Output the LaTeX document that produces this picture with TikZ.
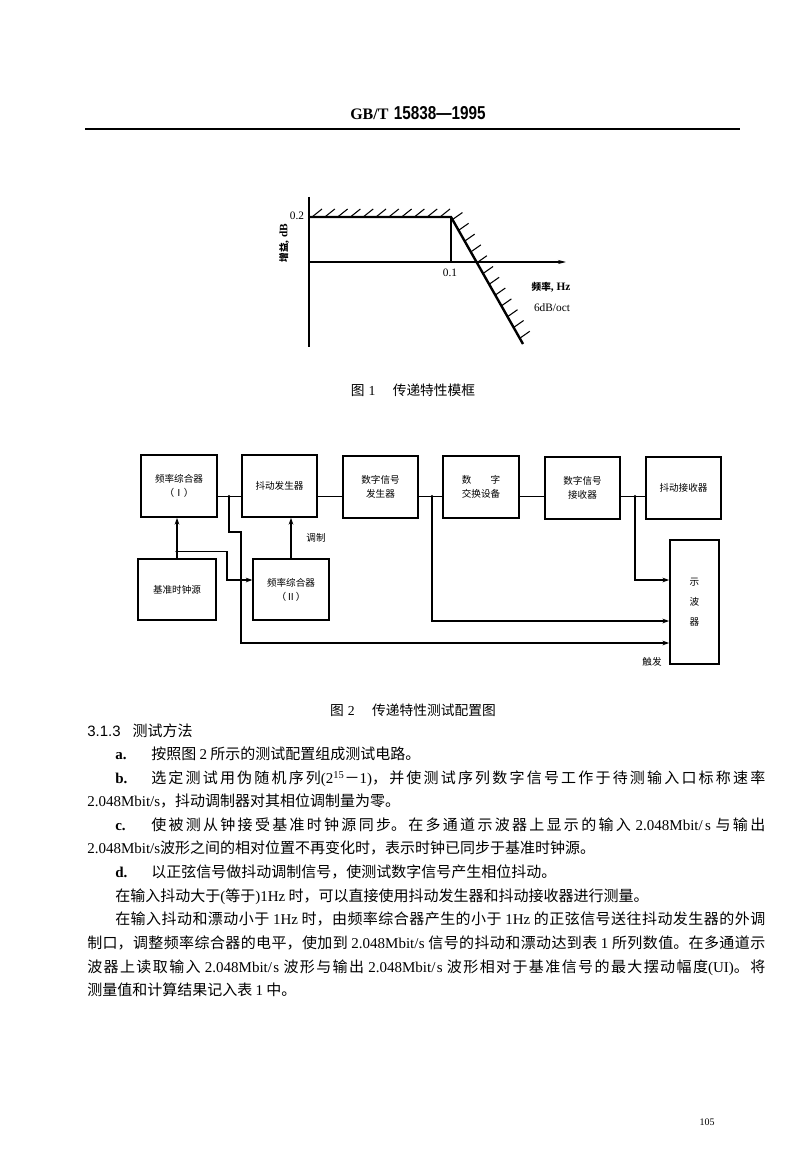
\documentclass[tikz,border=0pt]{standalone}
\usepackage{fontspec}
\usepackage{graphicx}
\setmainfont{Noto Sans CJK SC}
\newfontfamily\lat{Liberation Serif}
\newfontfamily\latsans{Liberation Sans}
\usetikzlibrary{arrows.meta,calc}
\XeTeXlinebreaklocale "zh"
\XeTeXlinebreakskip=0pt plus 2pt
\newcommand{\bodyfont}{\fontsize{11.25}{14}\selectfont}
\newcommand{\boxfont}{\fontsize{7.2}{10.5}\selectfont}
\newcommand{\figlat}{\lat\fontsize{8.5}{10}\selectfont}
\newcommand{\capfont}{\fontsize{10.3}{12}\selectfont}
\newcommand{\jline}[2]{\parbox[t]{#1}{\tolerance=10000\hbadness=10000\parfillskip=0pt\relax #2}}
\newcommand{\mbps}{{\lat 2.048Mbit/s}}
\begin{document}
\begin{tikzpicture}[x=0.75pt,y=-0.75pt,
  blk/.style={draw, line width=1.3pt, minimum width=56.6pt, minimum height=46.5pt, inner sep=0pt, align=center, font=\boxfont},
  conn/.style={line width=0.8pt},
  arr/.style={conn, -{Stealth[length=5pt,width=3.5pt]}},
  axis/.style={line width=0.9pt},
  bold line/.style={line width=1.8pt},
  hatch/.style={line width=0.8pt},
  lbl/.style={anchor=base west, inner sep=0pt, font=\bodyfont},
  dot/.style={fill, circle, inner sep=0pt, minimum size=2.4pt}]
\useasboundingbox[fill=white] (0,0) rectangle (800,1162);

% ---------- header ----------
\node[inner sep=0pt] (hdr) at (418,113) {{\lat\bfseries\fontsize{12}{14}\selectfont GB/T}\hspace{4pt}\scalebox{0.82}[1]{\latsans\bfseries\fontsize{14}{16}\selectfont 15838—1995}};
\coordinate (hl) at (85,129);
\coordinate (hr) at (740,129);
\draw[line width=1.5pt] (hl) -- (hr);

% ---------- figure 1 ----------
\coordinate (O) at (309,262);
\coordinate (Ytop) at (309,197);
\coordinate (Ybot) at (309,347);
\coordinate (Xend) at (566,262);
\coordinate (P2) at (309,217);
\coordinate (K) at (451,217);
\coordinate (K0) at (451,262);
\coordinate (S) at (523,344);
\draw[axis] (Ytop) -- (Ybot);
\draw[axis,-{Stealth[length=6pt,width=3pt]}] (O) -- (Xend);
\draw[axis] (K) -- (K0);
\draw[bold line, line join=miter] (P2) -- (K) -- (S);
\foreach \xx in {312,324.8,...,441} \draw[hatch] (\xx,217) -- ++(10,-8);
\foreach \t in {0.02,0.105,...,0.96} \draw[hatch] ($(K)!\t!(S)$) -- ++(10,-7);
\node[font=\figlat, inner sep=0pt] (l02) at (297,216) {0.2};
\node[font=\figlat, inner sep=0pt] (l01) at (450,273) {0.1};
\node[rotate=90, inner sep=0pt, font=\boxfont\bfseries] (ylab) at (284,243) {增益{\figlat , dB}};
\node[inner sep=0pt, font=\boxfont\bfseries] (flab) at (551,287) {频率{\figlat , Hz}};
\node[font=\figlat, inner sep=0pt] (slab) at (552,308) {6dB/oct};
\node[inner sep=0pt, font=\capfont] (cap1) at (413,390) {图\hspace{3pt}{\lat 1}\hspace{13pt}传递特性模框};

% ---------- figure 2 ----------
\node[blk] (A) at (179,486) {频率综合器\\（Ⅰ）};
\node[blk] (B) at (279.5,486) {抖动发生器};
\node[blk] (C) at (380.5,487) {数字信号\\发生器};
\node[blk] (D) at (481,487) {\makebox[4em]{数\hfill 字}\\交换设备};
\node[blk] (E) at (582.5,488) {数字信号\\接收器};
\node[blk] (F) at (683.5,488) {抖动接收器};
\node[blk, minimum width=36.75pt, minimum height=93pt] (G) at (694.5,602) {示\\[4.5pt]波\\[4.5pt]器};
\node[blk, minimum width=58.5pt, minimum height=45.75pt] (H) at (177,589.5) {基准时钟源};
\node[blk, minimum height=45.75pt] (I) at (291,589.5) {频率综合器\\（Ⅱ）};

\coordinate (ym) at (0,496.5);
\draw[conn] (A.east |- ym) -- (B.west |- ym);
\draw[conn] (B.east |- ym) -- (C.west |- ym);
\draw[conn] (C.east |- ym) -- (D.west |- ym);
\draw[conn] (D.east |- ym) -- (E.west |- ym);
\draw[conn] (E.east |- ym) -- (F.west |- ym);

\coordinate (j1) at (229,496.5);
\coordinate (j2) at (177,551.5);
\coordinate (j3) at (432,496.5);
\coordinate (j4) at (635,496.5);
\coordinate (ytrig) at (0,643);
\coordinate (y621) at (0,621);
\coordinate (y580) at (0,580);
\coordinate (b1) at (229,532);
\coordinate (b2) at (241,532);
\coordinate (b3) at (241,643);
\coordinate (b4) at (227,551.5);
\coordinate (b5) at (227,580);
\coordinate (b6) at (432,621);
\coordinate (b7) at (635,580);

\draw[arr] (j1) -- (b1) -- (b2) -- (b3) -- (G.west |- ytrig);
\draw[arr] (H.north) -- (H.north |- A.south);
\draw[arr] (j2) -- (b4) -- (b5) -- (I.west |- y580);
\draw[arr] (I.north) -- (I.north |- B.south);
\draw[arr] (j3) -- (b6) -- (G.west |- y621);
\draw[arr] (j4) -- (b7) -- (G.west |- y580);
\foreach \j in {j1,j2,j3,j4} \node[dot] at (\j) {};

\node[font=\boxfont, inner sep=0pt] (mod) at (316,538) {调制};
\node[font=\boxfont, inner sep=0pt] (trig) at (652,662) {触发};
\node[inner sep=0pt, font=\capfont] (cap2) at (413,710) {图\hspace{3pt}{\lat 2}\hspace{13pt}传递特性测试配置图};

% ---------- body text ----------
\node[lbl] (h313) at (87,736.5) {{\latsans 3.1.3}\hspace{9pt}测试方法};
\node[lbl] (la) at (115,759.5) {{\lat\bfseries a.}};
\node[lbl] (ta) at (151,759.5) {按照图 {\lat 2} 所示的测试配置组成测试电路。};
\node[lbl] (lb) at (115,783.5) {{\lat\bfseries b.}};
\node[lbl] (tb) at (151,783.5) {\jline{460.5pt}{选定测试用伪随机序列{\lat (2\textsuperscript{15}}－{\lat 1)}，并使测试序列数字信号工作于待测输入口标称速率}};
\node[lbl] (t4) at (87,806.5) {\mbps，抖动调制器对其相位调制量为零。};
\node[lbl] (lc) at (115,830.5) {{\lat\bfseries c.}};
\node[lbl] (tc) at (151,830.5) {\jline{460.5pt}{使被测从钟接受基准时钟源同步。在多通道示波器上显示的输入 \mbps{} 与输出}};
\node[lbl] (t6) at (87,853.5) {\mbps 波形之间的相对位置不再变化时，表示时钟已同步于基准时钟源。};
\node[lbl] (ld) at (115,877.5) {{\lat\bfseries d.}};
\node[lbl] (td) at (151,877.5) {以正弦信号做抖动调制信号，使测试数字信号产生相位抖动。};
\node[lbl] (t8) at (115,901.5) {在输入抖动大于{\lat (}等于{\lat )1Hz} 时，可以直接使用抖动发生器和抖动接收器进行测量。};
\node[lbl] (t9) at (115,924.5) {\jline{487.5pt}{在输入抖动和漂动小于 {\lat 1Hz} 时，由频率综合器产生的小于 {\lat 1Hz} 的正弦信号送往抖动发生器的外调}};
\node[lbl] (t10) at (87,948.5) {\jline{508.5pt}{制口，调整频率综合器的电平，使加到 \mbps{} 信号的抖动和漂动达到表 {\lat 1} 所列数值。在多通道示}};
\node[lbl] (t11) at (87,972.5) {\jline{508.5pt}{波器上读取输入 \mbps{} 波形与输出 \mbps{} 波形相对于基准信号的最大摆动幅度{\lat (UI)}。将}};
\node[lbl] (t12) at (87,995.5) {测量值和计算结果记入表 {\lat 1} 中。};

% ---------- page number ----------
\node[inner sep=0pt, font=\lat\fontsize{7.5}{9}\selectfont] (pg) at (707,1122) {105};
\end{tikzpicture}
\end{document}
